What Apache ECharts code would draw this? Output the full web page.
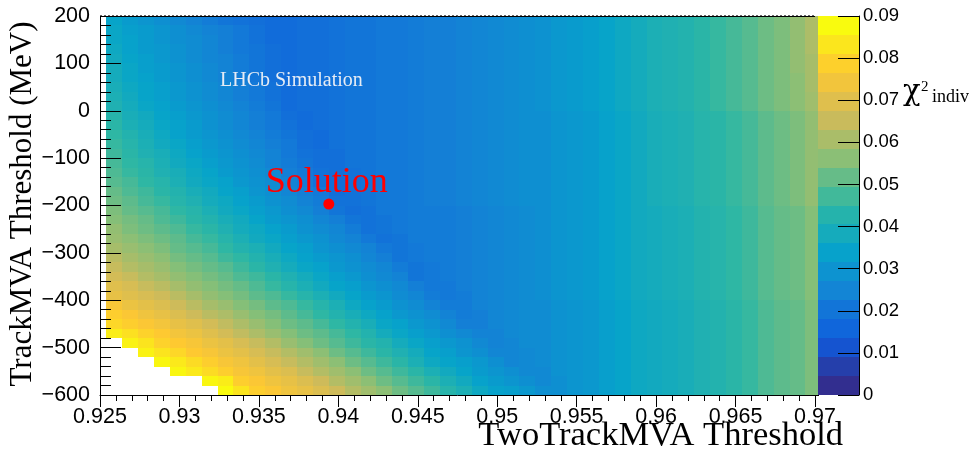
<!DOCTYPE html>
<html>
<head>
<meta charset="utf-8">
<script src="https://cdn.jsdelivr.net/npm/echarts@6/dist/echarts.min.js"></script>
<style>
  html, body { margin: 0; padding: 0; background: #ffffff; }
  #chart { width: 975px; height: 457px; }
</style>
</head>
<body>
<div id="chart"></div>
<script>
const _ = null; // empty bin (above the z range, not painted)

// TwoTrackMVA threshold bin edges (46 edges -> 45 bins)
const xEdges = [
  0.9254, 0.9264, 0.9274, 0.9284, 0.9294, 0.9304, 0.9314, 0.9324, 0.9334, 0.9344,
  0.9354, 0.9364, 0.9374, 0.9384, 0.9394, 0.9404, 0.9414, 0.9424, 0.9434, 0.9444,
  0.9454, 0.9464, 0.9474, 0.9484, 0.9494, 0.9504, 0.9514, 0.9524, 0.9534, 0.9544,
  0.9554, 0.9564, 0.9574, 0.9584, 0.9594, 0.9604, 0.9614, 0.9624, 0.9634, 0.9644,
  0.9654, 0.9664, 0.9674, 0.9684, 0.9694, 0.9704
];

// TrackMVA threshold bin edges in MeV (41 edges -> 40 bins)
const yEdges = [
  -600, -580, -560, -540, -520, -500, -480, -460, -440, -420,
  -400, -380, -360, -340, -320, -300, -280, -260, -240, -220,
  -200, -180, -160, -140, -120, -100, -80, -60, -40, -20,
  0, 20, 40, 60, 80, 100, 120, 140, 160, 180, 200
];

// chi2_indiv per bin, in units of 1e-3.
// Rows run from the top bin (180..200 MeV) down to the bottom bin (-600..-580 MeV).
const chi2Rows = [
  [34,31,29,27,25,23,21,19,18,17, 16,16,17,17,18,19,19,20,20,21, 22,22,23,24,25,26,27,28,30,31, 32,34,36,38,40,41,42,44,46,48, 50,53,55,58,62],
  [35,32,31,29,27,25,23,22,20,18, 16,16,17,17,18,19,19,20,20,21, 22,22,23,24,25,26,27,28,30,31, 32,34,36,38,40,41,42,44,46,48, 50,53,55,58,62],
  [35,33,31,29,27,26,24,22,20,18, 16,16,17,17,18,19,19,20,20,21, 22,22,23,24,25,26,27,28,30,31, 32,34,36,38,40,41,42,44,46,48, 50,53,55,58,62],
  [36,33,31,30,28,26,24,22,20,19, 17,16,17,17,18,19,19,20,20,21, 22,22,23,24,25,26,27,28,30,31, 32,34,36,38,40,41,42,44,46,48, 50,53,55,58,62],
  [37,34,32,30,28,26,24,23,21,19, 17,16,17,17,18,19,19,20,20,21, 22,22,23,24,25,26,27,28,30,31, 32,34,36,38,40,41,42,44,46,48, 50,53,55,58,61],
  [38,35,32,31,29,27,25,23,21,19, 17,16,17,17,18,19,19,20,20,21, 22,22,23,24,25,26,27,28,30,31, 32,34,36,38,40,41,42,44,46,48, 50,53,55,58,61],
  [38,35,33,31,29,27,25,23,21,19, 17,16,17,17,18,19,19,20,20,21, 22,22,23,24,25,26,27,28,30,31, 32,34,36,38,40,41,42,44,46,48, 50,53,55,57,61],
  [39,36,34,32,30,28,26,24,22,20, 18,16,17,17,18,19,19,20,20,21, 22,22,23,24,25,26,27,28,30,31, 32,34,36,38,40,41,42,44,46,48, 50,53,55,57,61],
  [40,37,34,32,30,28,26,24,22,20, 18,16,17,17,18,19,19,20,20,21, 22,22,23,24,25,26,27,28,30,31, 32,34,36,38,40,41,42,44,46,48, 50,53,55,57,60],
  [41,38,35,33,31,29,27,25,23,21, 19,16,17,17,18,19,19,20,20,21, 22,22,23,24,25,26,27,28,30,31, 32,34,36,38,40,41,42,44,46,48, 50,53,55,57,60],
  [43,39,37,34,32,30,28,26,24,22, 20,17,16,17,18,19,19,20,20,21, 22,22,23,24,25,26,27,27,29,30, 31,33,35,37,39,40,41,43,44,46, 48,51,53,55,58],
  [44,40,38,35,33,31,28,26,24,22, 20,18,16,17,18,19,19,20,20,21, 22,22,23,24,25,26,27,27,29,30, 31,33,35,37,39,40,41,43,44,46, 48,51,53,55,58],
  [45,42,39,36,33,31,29,27,25,23, 21,19,17,16,18,19,19,20,20,21, 22,22,23,24,25,26,27,27,29,30, 31,33,35,37,39,40,41,43,44,46, 48,51,53,55,58],
  [46,43,40,37,35,32,30,28,26,24, 22,20,17,16,18,19,19,20,20,21, 22,22,23,24,25,26,27,27,29,30, 31,33,35,37,39,40,41,43,44,46, 48,51,53,55,58],
  [47,44,41,39,36,33,31,29,27,25, 23,20,18,17,17,19,19,20,20,21, 22,22,23,24,25,26,27,27,29,30, 31,33,35,37,39,40,41,43,44,46, 48,51,53,55,58],
  [48,45,43,40,37,35,32,30,28,26, 23,21,19,17,17,19,19,20,20,21, 22,22,23,24,25,26,27,27,29,30, 31,33,35,37,39,40,41,43,44,46, 48,51,53,55,58],
  [49,46,44,41,39,36,34,31,29,27, 25,22,20,18,17,18,19,20,20,21, 22,22,23,24,25,26,27,27,29,30, 31,33,35,37,39,40,41,43,44,46, 48,51,53,55,58],
  [50,48,45,43,40,37,35,33,30,28, 26,23,21,18,17,18,19,20,20,21, 22,22,23,24,25,26,27,27,29,30, 31,33,35,37,39,40,41,43,44,46, 48,51,53,55,58],
  [52,49,47,44,42,39,37,34,32,29, 27,24,22,20,17,18,19,20,20,21, 22,22,23,24,25,26,27,27,29,30, 31,33,35,37,39,40,41,43,44,46, 48,51,53,55,58],
  [53,51,48,46,43,41,38,36,33,31, 28,26,23,21,18,18,19,20,20,21, 22,22,23,24,25,26,27,27,29,30, 31,33,35,37,39,40,41,43,44,46, 48,51,53,55,58],
  [55,52,50,48,45,43,40,37,35,32, 30,27,25,22,19,17,18,20,20,21, 21,21,22,23,24,25,26,27,29,30, 31,33,35,37,38,39,40,42,43,45, 47,50,52,53,56],
  [56,54,52,49,47,44,42,39,37,34, 31,29,27,24,22,19,18,19,20,21, 21,21,22,23,24,25,26,27,29,30, 31,33,35,37,38,39,40,42,43,45, 47,50,52,53,56],
  [58,55,53,51,49,46,44,41,38,36, 33,31,28,26,24,21,18,19,20,21, 21,21,22,23,24,25,26,27,29,30, 31,33,35,37,38,39,40,42,43,45, 47,50,52,53,56],
  [59,57,55,53,51,48,46,43,40,37, 35,32,30,28,25,23,20,18,19,21, 21,21,22,23,24,25,26,27,29,30, 31,33,35,37,38,39,40,42,43,45, 47,50,52,53,56],
  [61,59,57,55,52,50,48,45,42,40, 37,34,32,29,27,25,23,20,19,20, 21,21,22,23,24,25,26,27,29,30, 31,33,35,37,38,39,40,42,43,45, 47,50,52,53,56],
  [64,61,59,57,54,52,50,47,45,42, 39,36,33,31,29,27,24,22,19,20, 21,21,22,23,24,25,26,27,29,30, 31,33,35,37,38,39,40,42,43,45, 47,50,52,53,56],
  [66,63,61,59,56,54,52,50,47,44, 41,38,35,33,30,28,26,24,21,19, 20,21,22,23,24,25,26,27,29,30, 31,33,35,37,38,39,40,42,43,45, 47,50,52,53,56],
  [68,66,63,61,58,56,54,52,49,47, 44,41,38,35,32,30,27,25,23,19, 20,21,22,23,24,25,26,27,29,30, 31,33,35,37,38,39,40,42,43,45, 47,50,52,53,56],
  [71,69,66,64,61,58,56,54,52,49, 46,43,40,37,34,32,29,27,25,22, 20,20,22,23,24,25,26,27,29,30, 31,33,35,37,38,39,40,42,43,45, 47,50,52,53,56],
  [73,71,69,67,64,61,58,56,54,51, 49,46,43,40,37,34,31,29,26,24, 21,20,21,23,24,25,26,27,29,30, 31,33,35,37,38,39,40,42,43,45, 47,50,52,53,56],
  [77,74,72,70,67,64,61,59,56,54, 51,49,46,43,40,36,33,31,28,26, 23,21,21,23,24,25,26,26,28,29, 30,32,34,36,37,38,39,41,42,44, 46,49,51,52,55],
  [80,78,75,73,70,67,64,62,59,56, 54,51,48,45,42,39,36,33,30,28, 26,23,21,22,24,25,26,26,28,29, 30,32,34,36,37,38,39,41,42,44, 46,49,51,52,55],
  [82,80,78,76,73,71,68,65,62,59, 56,53,51,48,45,42,39,35,33,30, 28,25,22,22,24,25,26,26,28,29, 30,32,34,36,37,38,39,41,42,44, 46,49,51,52,55],
  [87,84,81,79,76,74,71,68,65,62, 59,56,53,51,48,45,42,38,35,32, 30,27,25,23,23,25,26,26,28,29, 30,32,34,36,37,38,39,41,42,44, 46,49,51,52,55],
  [ _,88,85,81,79,77,74,72,69,66, 63,59,56,53,50,47,44,42,38,35, 32,30,28,25,23,24,26,26,28,29, 30,32,34,36,37,38,39,41,42,44, 46,49,51,52,55],
  [ _, _,88,85,82,79,77,74,72,69, 66,63,60,57,53,50,47,44,41,38, 34,32,29,27,24,24,25,26,28,29, 30,32,34,36,37,38,39,41,42,44, 46,49,51,52,55],
  [ _, _, _,89,86,83,80,77,75,72, 69,66,63,60,57,53,50,47,44,40, 36,34,32,30,27,24,25,26,28,29, 30,32,34,36,37,38,39,41,42,44, 46,49,51,52,55],
  [ _, _, _, _,89,86,83,80,77,75, 72,70,66,63,60,57,53,50,47,44, 40,37,34,31,29,27,25,25,28,29, 30,32,34,36,37,38,39,41,42,44, 46,49,51,52,55],
  [ _, _, _, _, _, _,89,87,80,78, 75,73,70,67,63,60,57,53,50,47, 44,40,37,33,31,29,27,25,27,29, 30,32,34,36,37,38,39,41,42,44, 46,49,51,52,55],
  [ _, _, _, _, _, _, _,90,85,80, 78,75,73,70,67,63,60,57,53,50, 47,43,40,36,33,32,30,27,27,29, 30,32,34,36,37,38,39,41,42,44, 46,49,51,52,55]
];

// Best working point (TwoTrackMVA, TrackMVA in MeV)
const solution = [0.9394, -197];

// Colour-scale bands of the z axis and the level each band shows
const colorbarEdges = [0, 0.0045, 0.009, 0.0135, 0.018, 0.0225, 0.027, 0.0315, 0.036, 0.0405, 0.045,
  0.0495, 0.054, 0.0585, 0.063, 0.0675, 0.072, 0.0765, 0.081, 0.0855, 0.09];
const colorbarLevels = [0.001, 0.0047, 0.0095, 0.0142, 0.0189, 0.0237, 0.0284, 0.0332, 0.0379, 0.0426,
  0.0474, 0.0521, 0.0568, 0.0616, 0.0663, 0.0711, 0.0758, 0.0805, 0.0853, 0.09];

// "Bird" palette stops
const birdPalette = ['#352a87', '#0f5cdd', '#1481d6', '#06a4ca', '#2eb7a4', '#87bf77', '#d1bb59', '#fec832', '#f9fb0e'];

const cells = [];
chi2Rows.forEach((row, i) => {
  const r = chi2Rows.length - 1 - i;
  row.forEach((v, k) => {
    if (v === null) return;
    cells.push([xEdges[k], yEdges[r], v / 1000, xEdges[k + 1], yEdges[r + 1]]);
  });
});
const bands = colorbarLevels.map((lv, i) => [0, colorbarEdges[i], lv, 1, colorbarEdges[i + 1]]);

function binRect(params, api) {
  const a = api.coord([api.value(0), api.value(1)]);
  const b = api.coord([api.value(3), api.value(4)]);
  const x0 = Math.round(a[0]), x1 = Math.round(b[0]);
  const y0 = Math.round(b[1]), y1 = Math.round(a[1]);
  return {
    type: 'rect',
    shape: { x: x0, y: y0, width: x1 - x0, height: y1 - y0 },
    style: { fill: api.visual('color'), stroke: null }
  };
}

const sansLabel = { color: '#000', fontFamily: '"Liberation Sans", Arial, sans-serif' };
const serif = '"Liberation Serif", "Times New Roman", serif';

const chart = echarts.init(document.getElementById('chart'), null, { renderer: 'canvas' });
chart.setOption({
  animation: false,
  backgroundColor: '#ffffff',
  grid: [
    { left: 100, top: 16, width: 715, height: 379 },
    { left: 818, top: 16, width: 41, height: 379 }
  ],
  xAxis: [
    {
      gridIndex: 0, type: 'value', min: 0.925, max: 0.97, interval: 0.005,
      axisLine: { show: true, onZero: false, lineStyle: { color: '#000', width: 1 } },
      axisTick: { show: true, inside: false, length: 12, lineStyle: { color: '#000' } },
      minorTick: { show: true, splitNumber: 5, length: 6, lineStyle: { color: '#000' } },
      splitLine: { show: false }, minorSplitLine: { show: false },
      axisLabel: Object.assign({ margin: 11, fontSize: 21.5,
        formatter: v => String(parseFloat(v.toFixed(3))) }, sansLabel)
    },
    { gridIndex: 1, type: 'value', min: 0, max: 1, show: false, axisLine: { onZero: false } }
  ],
  yAxis: [
    {
      gridIndex: 0, type: 'value', min: -600, max: 200, interval: 100, z: 5,
      axisLine: { show: true, onZero: false, lineStyle: { color: '#000', width: 1 } },
      axisTick: { show: true, inside: true, length: 21, lineStyle: { color: '#000' } },
      minorTick: { show: true, splitNumber: 5, length: 11, lineStyle: { color: '#000' } },
      splitLine: { show: false }, minorSplitLine: { show: false },
      axisLabel: Object.assign({ margin: 10, fontSize: 21.5,
        formatter: v => (v < 0 ? '\u2212' + Math.abs(v) : String(v)) }, sansLabel)
    },
    {
      gridIndex: 1, type: 'value', position: 'right', min: 0, max: 0.09, interval: 0.01, z: 5,
      axisLine: { show: true, onZero: false, lineStyle: { color: '#000', width: 1 } },
      axisTick: { show: true, inside: true, length: 21, lineStyle: { color: '#000' } },
      splitLine: { show: false },
      axisLabel: Object.assign({ margin: 4, fontSize: 18.5,
        formatter: v => String(parseFloat(v.toFixed(2))) }, sansLabel)
    }
  ],
  visualMap: {
    type: 'continuous', show: false, min: 0, max: 0.09, dimension: 2,
    seriesIndex: [0, 1], inRange: { color: birdPalette }
  },
  series: [
    {
      type: 'custom', xAxisIndex: 0, yAxisIndex: 0, renderItem: binRect,
      data: cells, encode: { x: [0, 3], y: [1, 4] }, z: 2, clip: false, silent: true
    },
    {
      type: 'custom', xAxisIndex: 1, yAxisIndex: 1, renderItem: binRect,
      data: bands, encode: { x: [0, 3], y: [1, 4] }, z: 3, silent: true
    },
    {
      type: 'scatter', xAxisIndex: 0, yAxisIndex: 0, data: [solution],
      symbol: 'circle', symbolSize: 11, z: 6, silent: true,
      itemStyle: { color: '#ff0000', opacity: 1 },
      label: {
        show: true, formatter: 'Solution', position: 'top', distance: 0, offset: [-2, 2],
        color: '#ff0000', fontFamily: serif, fontSize: 36
      }
    }
  ],
  graphic: [
    { type: 'line', z: 10, silent: true, shape: { x1: 100, y1: 15.5, x2: 815, y2: 15.5 },
      style: { stroke: '#666', lineWidth: 1, lineDash: [2, 2] } },
    { type: 'line', z: 10, silent: true, shape: { x1: 100, y1: 16.5, x2: 815, y2: 16.5 },
      style: { stroke: '#000', lineWidth: 1 } },
    { type: 'line', z: 10, silent: true, shape: { x1: 815, y1: 395.5, x2: 819, y2: 395.5 },
      style: { stroke: '#000', lineWidth: 1 } },
    { type: 'text', z: 10, silent: true, x: 220, y: 81,
      style: { text: 'LHCb Simulation', font: '20px ' + serif, fill: '#e6ecf5', textVerticalAlign: 'middle' } },
    { type: 'text', z: 10, silent: true, x: 843, y: 436,
      style: { text: 'TwoTrackMVA Threshold', font: '34.5px ' + serif, fill: '#000',
        textAlign: 'right', textVerticalAlign: 'middle' } },
    { type: 'text', z: 10, silent: true, x: 23, y: 204, rotation: Math.PI / 2,
      style: { text: 'TrackMVA Threshold (MeV)', font: '31px ' + serif, fill: '#000',
        textAlign: 'center', textVerticalAlign: 'middle' } },
    { type: 'text', z: 10, silent: true, x: 903, y: 92,
      style: { text: '\u03c7', font: '29px "DejaVu Serif", serif', fill: '#000', textVerticalAlign: 'middle' } },
    { type: 'text', z: 10, silent: true, x: 921, y: 87,
      style: { text: '2', font: '15px ' + serif, fill: '#000', textVerticalAlign: 'middle' } },
    { type: 'text', z: 10, silent: true, x: 932, y: 97,
      style: { text: 'indiv', font: '18px ' + serif, fill: '#000', textVerticalAlign: 'middle' } }
  ]
});
</script>
</body>
</html>
